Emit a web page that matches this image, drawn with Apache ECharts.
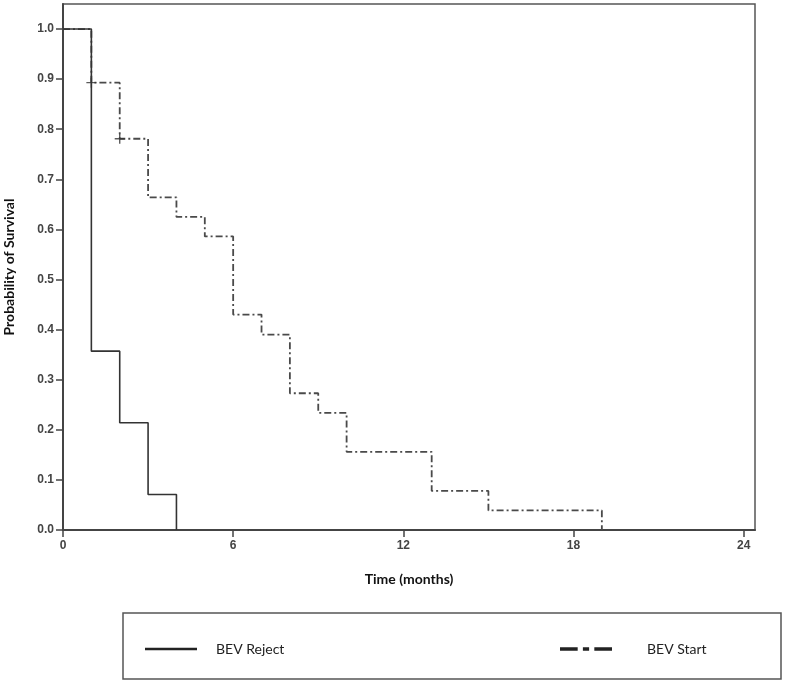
<!DOCTYPE html>
<html>
<head>
    <meta charset="utf-8">
    <title>Survival</title>
    <script src="https://cdn.jsdelivr.net/npm/echarts@6/dist/echarts.min.js"></script>
    <style>
        html, body { margin: 0; padding: 0; background: #fff; }
        #main { width: 787px; height: 682px; }
    </style>
</head>
<body>
    <div id="main"></div>
<script type="text/javascript">
    // 数据
    var rejectTime = [0, 1, 2, 3, 4];
    var rejectSurv = [1.0, 0.357, 0.214, 0.071, 0.0];

    var startTime = [0, 1, 2, 3, 4, 5, 6, 7, 8, 9, 10, 13, 15, 19];
    var startSurv = [1.0, 0.893, 0.781, 0.664, 0.625, 0.586, 0.43, 0.39, 0.273, 0.234, 0.156, 0.078, 0.039, 0.0];

    // censored observations
    var censorTime = [1, 2];
    var censorSurv = [0.893, 0.781];

    var xTicks = [0, 6, 12, 18, 24];

    function pairs(xs, ys) {
        var out = [];
        for (var i = 0; i < xs.length; i++) {
            out.push([xs[i], ys[i]]);
        }
        return out;
    }

    var myChart = echarts.init(document.getElementById('main'));

    var plusPath = 'path://M4.3,0h1.4v4.3h4.3v1.4h-4.3v4.3h-1.4v-4.3h-4.3v-1.4h4.3z';
    var dashDot = [7, 3, 2, 3];
    var tickFont = 'Liberation Sans Narrow, Liberation Sans, Arial, sans-serif';

    var option = {
        animation: false,
        grid: {
            left: 63, right: 32, top: 4, bottom: 152,
            containLabel: false,
            outerBoundsMode: 'none',
            show: true,
            borderColor: '#555',
            borderWidth: 1.5
        },
        xAxis: {
            type: 'value',
            min: 0,
            max: 24.4,
            interval: 6,
            name: 'Time (months)',
            nameLocation: 'middle',
            nameGap: 42,
            nameTextStyle: { fontFamily: 'Lato', fontWeight: 'bold', fontSize: 14, color: '#111' },
            axisLine: { show: true, lineStyle: { color: '#444', width: 2 } },
            axisTick: { show: true, length: 7, lineStyle: { color: '#444', width: 1.5 } },
            axisLabel: {
                showMaxLabel: false,
                fontFamily: tickFont,
                fontSize: 12,
                fontWeight: 'bold',
                color: '#444',
                margin: 10,
                formatter: function(v) { return xTicks.indexOf(v) >= 0 ? String(v) : ''; }
            },
            splitLine: { show: false }
        },
        yAxis: {
            type: 'value',
            min: 0,
            max: 1.05,
            interval: 0.1,
            name: 'Probability of Survival',
            nameLocation: 'middle',
            nameGap: 47,
            nameTextStyle: { fontFamily: 'Lato', fontWeight: 'bold', fontSize: 14, color: '#111' },
            axisLine: { show: true, lineStyle: { color: '#444', width: 2 } },
            axisTick: { show: true, length: 7, lineStyle: { color: '#444', width: 1.5 } },
            axisLabel: {
                showMaxLabel: false,
                fontFamily: tickFont,
                fontSize: 12,
                fontWeight: 'bold',
                color: '#444',
                margin: 9,
                formatter: function(v) { return v.toFixed(1); }
            },
            splitLine: { show: false }
        },
        legend: [{
            data: ['BEV Reject'],
            left: 140,
            top: 637,
            itemWidth: 52,
            itemHeight: 14,
            icon: 'path://M0,6h52v2.4h-52z',
            itemStyle: { color: '#222' },
            textStyle: { fontFamily: 'Lato', fontSize: 14, color: '#222', padding: [0, 0, 0, 14] }
        }, {
            data: ['BEV Start'],
            left: 555,
            top: 637,
            itemWidth: 52,
            itemHeight: 14,
            icon: 'path://M0,5.5h17v3.5h-17z M22,5.5h6v3.5h-6z M33,5.5h17v3.5h-17z',
            itemStyle: { color: '#222' },
            textStyle: { fontFamily: 'Lato', fontSize: 14, color: '#222', padding: [0, 0, 0, 30] }
        }],
        graphic: [{
            type: 'rect',
            shape: { x: 123, y: 613, width: 658, height: 66 },
            style: { fill: 'none', stroke: '#555', lineWidth: 1.5 },
            silent: true
        }],
        series: [{
            name: 'BEV Reject',
            type: 'line',
            step: 'end',
            symbol: 'none',
            data: pairs(rejectTime, rejectSurv),
            lineStyle: { color: '#333', width: 1.6, type: 'solid' },
            itemStyle: { color: '#333' },
            z: 3
        }, {
            name: 'BEV Start',
            type: 'line',
            step: 'end',
            symbol: 'none',
            data: pairs(startTime, startSurv),
            lineStyle: { color: '#4a4a4a', width: 1.8, type: dashDot },
            itemStyle: { color: '#4a4a4a' },
            z: 2
        }, {
            name: 'censored',
            type: 'scatter',
            symbol: plusPath,
            symbolSize: 10,
            data: pairs(censorTime, censorSurv),
            itemStyle: { color: '#333' },
            z: 4
        }]
    };

    myChart.setOption(option);
</script>
</body>
</html>
